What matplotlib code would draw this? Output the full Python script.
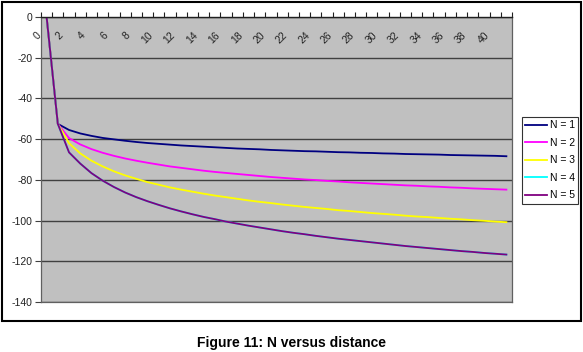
"""
Figure 11: N versus distance (Excel-style line chart).
"""

import matplotlib
matplotlib.use("Agg")
import matplotlib.pyplot as plt
import matplotlib.transforms as mtransforms
from matplotlib.patches import Rectangle
import numpy as np

plt.rcParams["font.family"] = ["Liberation Sans", "DejaVu Sans"]
plt.rcParams["axes.unicode_minus"] = False

distance = list(range(42))

n1 = [0, -52.5, -55.5, -57.2, -58.4, -59.4, -60.1, -60.8, -61.4, -61.9, -62.3,
      -62.7, -63.1, -63.4, -63.7, -64.0, -64.3, -64.6, -64.8, -65.0, -65.3,
      -65.5, -65.7, -65.9, -66.0, -66.2, -66.4, -66.5, -66.7, -66.8, -67.0,
      -67.1, -67.3, -67.4, -67.5, -67.6, -67.8, -67.9, -68.0, -68.1, -68.2, -68.4]
n2 = [0, -52.5, -59.5, -62.6, -64.9, -66.7, -68.2, -69.5, -70.6, -71.6, -72.5,
      -73.4, -74.1, -74.8, -75.5, -76.1, -76.6, -77.1, -77.6, -78.1, -78.6,
      -79.0, -79.4, -79.8, -80.1, -80.5, -80.8, -81.2, -81.5, -81.8, -82.1,
      -82.4, -82.7, -82.9, -83.2, -83.4, -83.7, -83.9, -84.2, -84.4, -84.6, -84.8]
n3 = [0, -52.5, -62.0, -67.0, -70.6, -73.4, -75.8, -77.8, -79.5, -81.1, -82.4,
      -83.7, -84.8, -85.8, -86.8, -87.7, -88.5, -89.3, -90.1, -90.8, -91.4,
      -92.1, -92.7, -93.3, -93.8, -94.3, -94.9, -95.3, -95.8, -96.3, -96.7,
      -97.1, -97.6, -98.0, -98.3, -98.7, -99.1, -99.4, -99.8, -100.1, -100.5, -100.8]
n5 = [0, -52.5, -66.5, -72.0, -76.7, -80.4, -83.5, -86.2, -88.5, -90.5, -92.3,
      -94.0, -95.5, -96.9, -98.2, -99.3, -100.5, -101.5, -102.5, -103.4, -104.3,
      -105.2, -106.0, -106.7, -107.5, -108.2, -108.9, -109.5, -110.1, -110.7, -111.3,
      -111.9, -112.5, -113.0, -113.5, -114.0, -114.5, -115.0, -115.4, -115.9, -116.3, -116.7]
# N = 4 is hidden under N = 5 in the original chart
n4 = list(n5)

series = [("N = 1", n1, "#000080"),
          ("N = 2", n2, "#FF00FF"),
          ("N = 3", n3, "#FFFF00"),
          ("N = 4", n4, "#00FFFF"),
          ("N = 5", n5, "#800080")]

y_ticks = list(range(-140, 1, 20))
x_labels = list(range(0, 41, 2))

fig = plt.figure(figsize=(5.83, 3.52), dpi=100)
ax = fig.add_axes([41 / 583, 1 - 302 / 352, (512 - 41) / 583, (302 - 17) / 352])
ax.set_facecolor("#C0C0C0")

for label, values, color in series:
    ax.plot(distance, values, color=color, lw=1.3, label=label)

ax.set_xlim(-0.5, 41.5)
ax.set_ylim(-140, 0)

# horizontal gridlines
ax.set_yticks(y_ticks)
ax.yaxis.grid(True, color="#404040", lw=1.0)
ax.set_axisbelow(True)
ax.tick_params(axis="y", direction="out", length=4, width=0.8, colors="#404040",
               labelsize=7.5, labelcolor="#222222", pad=2)

# category axis at value 0 (top of plot), ticks between categories
ax.xaxis.set_ticks_position("top")
ax.set_xticks(np.arange(-0.5, 42, 1))
ax.tick_params(axis="x", direction="out", length=3.5, width=0.8, colors="#202020",
               labeltop=False, labelbottom=False)

offset = mtransforms.offset_copy(ax.transData, fig=fig, x=-4, y=-13, units="dots")
for x in x_labels:
    ax.text(x, 0, str(x), transform=offset, rotation=45, ha="right", va="top",
            fontsize=7.5, color="#222222")

for side in ["left", "bottom", "right"]:
    ax.spines[side].set_color("#606060")
    ax.spines[side].set_linewidth(0.9)
ax.spines["top"].set_color("#202020")
ax.spines["top"].set_linewidth(1.0)

leg = ax.legend(loc="upper left", bbox_to_anchor=(521.5 / 583, 1 - 116.5 / 352),
                bbox_transform=fig.transFigure, fontsize=7.5, frameon=True,
                fancybox=False, edgecolor="black", handlelength=2.1,
                handletextpad=0.25, labelspacing=0.72, borderpad=0.35,
                borderaxespad=0)
leg.get_frame().set_linewidth(0.8)

# outer chart border
fig.patches.append(Rectangle((1.5 / 583, 1 - 321 / 352), 579 / 583, 319.5 / 352,
                             transform=fig.transFigure, fill=False,
                             edgecolor="black", lw=1.5))

fig.text(0.5, 1 - 343 / 352, "Figure 11: N versus distance", ha="center",
         va="center", fontsize=10, fontweight="bold")

fig.savefig("out.png", dpi=100)
